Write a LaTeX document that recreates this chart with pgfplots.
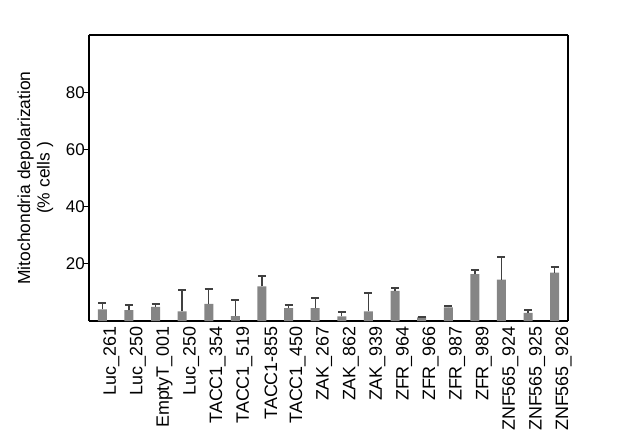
\documentclass[border=0pt]{standalone}
\usepackage{pgfplots}
\pgfplotsset{compat=1.18}
\usepackage{pgfplotstable}
\usepackage{fontspec}
\setmainfont{Liberation Sans}
\definecolor{barfill}{HTML}{858585}
\definecolor{errcol}{HTML}{404040}
\newcommand{\chartfont}{\fontsize{18}{19.5}\selectfont}
\newcommand{\labfont}{\fontsize{17.5}{19.5}\selectfont}
\newcommand{\tickfont}{\fontsize{17}{19}\selectfont}

\pgfplotstableread{
x y err
0 4.1 2.2
1 3.8 1.7
2 4.9 1.0
3 3.4 7.4
4 6.0 5.3
5 1.7 5.6
6 12.1 3.7
7 4.5 1.2
8 4.5 3.6
9 1.6 1.4
10 3.4 6.5
11 10.5 0.9
12 1.3 0.2
13 4.8 0.4
14 16.4 1.4
15 14.5 7.8
16 2.8 0.9
17 16.9 1.9
}\depol

\begin{document}
\begin{tikzpicture}
\begin{axis}[
  scale only axis,
  width=479bp, height=286bp,
  xmin=-0.5, xmax=17.5,
  ymin=0, ymax=100,
  axis x line*=bottom,
  axis y line*=left,
  axis line style={line width=1.6bp, black},
  xtick=data,
  xticklabels={Luc\_261, Luc\_250, EmptyT\_001, Luc\_250, TACC1\_354, TACC1\_519, TACC1-855, TACC1\_450, ZAK\_267, ZAK\_862, ZAK\_939, ZFR\_964, ZFR\_966, ZFR\_987, ZFR\_989, ZNF565\_924, ZNF565\_925, ZNF565\_926},
  x tick style={draw=none},
  xticklabel style={rotate=90, anchor=east, inner sep=0pt, yshift=-9bp,
    font=\chartfont},
  ytick={20,40,60,80},
  tick align=outside,
  major tick length=5bp,
  y tick style={line width=1bp, black},
  yticklabel style={inner sep=0pt, xshift=1bp, font=\tickfont},
  /pgf/number format/assume math mode=true,
  ylabel={Mitochondria depolarization\\(\% cells )},
  ylabel style={at={(axis description cs:-0.112,0.5)}, anchor=center,
    align=center, font=\labfont},
  ybar, bar width=9bp,
  clip=false,
]
\addplot[fill=barfill, draw=none,
  error bars/.cd, y dir=plus, y explicit,
  error bar style={line width=1.3bp, errcol},
  error mark options={line width=2bp, errcol, mark size=4bp, rotate=90}]
  table[x=x, y=y, y error=err] {\depol};
\draw[line width=1.3bp, black] (rel axis cs:0,1) -- (rel axis cs:1,1);
\draw[line width=1.6bp, black] (rel axis cs:1,1) -- (rel axis cs:1,0);
\end{axis}
\pgfresetboundingbox
\useasboundingbox (-89bp,-123bp) rectangle (528bp,321bp);
\end{tikzpicture}
\end{document}
